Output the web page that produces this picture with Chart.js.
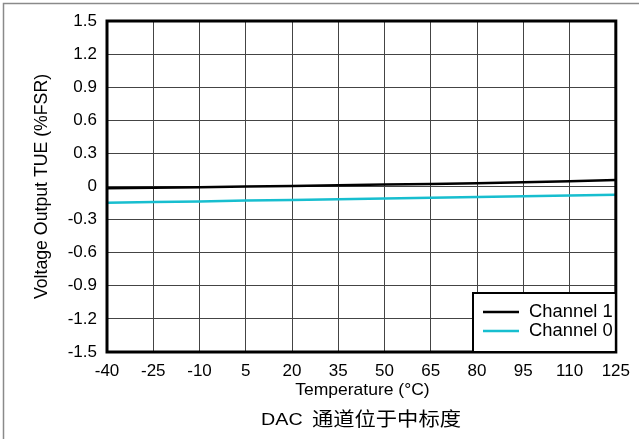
<!DOCTYPE html>
<html>
<head>
<meta charset="utf-8">
<script src="https://cdn.jsdelivr.net/npm/chart.js@4/dist/chart.umd.min.js"></script>
<style>
  html, body { margin: 0; padding: 0; background: #fff; }
  #wrap { position: relative; width: 639px; height: 439px; }
</style>
</head>
<body>
<div id="wrap"><canvas id="c" width="639" height="439"></canvas></div>
<script>
// ---- data ----
const temperatures = [-40, -25, -10, 5, 20, 35, 50, 65, 80, 95, 110, 125];
const channel1 = [-0.016, -0.011, -0.006, -0.001, 0.005, 0.011, 0.017, 0.023, 0.030, 0.038, 0.047, 0.058];
const channel0 = [-0.148, -0.141, -0.135, -0.128, -0.122, -0.115, -0.108, -0.102, -0.095, -0.088, -0.082, -0.075];
const seriesNames = ['Channel 1', 'Channel 0'];
const xTickLabels = ['-40', '-25', '-10', '5', '20', '35', '50', '65', '80', '95', '110', '125'];
const yTickLabels = ['-1.5', '-1.2', '-0.9', '-0.6', '-0.3', '0', '0.3', '0.6', '0.9', '1.2', '1.5'];
const xTitle = 'Temperature (°C)';
const yTitle = 'Voltage Output TUE (%FSR)';
const captionLatin = 'DAC';
const captionCJK = '通道位于中标度';

const colors = ['#000000', '#17BECF'];
const FONT = '"Liberation Sans", Arial, sans-serif';

const toPoints = (arr) => temperatures.map((t, i) => ({ x: t, y: arr[i] }));

function stretchedText(ctx, text, x, y, sx) {
  ctx.save();
  ctx.translate(x, y);
  ctx.scale(sx, 1);
  ctx.fillText(text, 0, 0);
  ctx.restore();
}

const decorPlugin = {
  id: 'decor',
  beforeDraw(chart) {
    const ctx = chart.ctx;
    ctx.save();
    ctx.fillStyle = '#fff';
    ctx.fillRect(0, 0, chart.width, chart.height);
    // outer frame (left + top)
    ctx.strokeStyle = '#8a8a8a';
    ctx.lineWidth = 1.5;
    ctx.beginPath();
    ctx.moveTo(3.5, chart.height);
    ctx.lineTo(3.5, 3.5);
    ctx.lineTo(chart.width, 3.5);
    ctx.stroke();
    ctx.restore();
  },
  afterDatasetsDraw(chart) {
    const ctx = chart.ctx;
    const a = chart.chartArea;
    ctx.save();
    // plot border
    ctx.strokeStyle = '#000';
    ctx.lineWidth = 3;
    ctx.strokeRect(a.left, a.top, a.right - a.left, a.bottom - a.top);

    // legend box
    const lx = 473, ly = 293, lw = a.right - 473, lh = a.bottom - 293;
    ctx.fillStyle = '#fff';
    ctx.fillRect(lx, ly, lw, lh);
    ctx.lineWidth = 2;
    ctx.strokeRect(lx, ly, lw, lh);
    const rows = [312, 331];
    ctx.font = '17.5px ' + FONT;
    ctx.textBaseline = 'middle';
    ctx.textAlign = 'left';
    rows.forEach((ry, i) => {
      ctx.strokeStyle = colors[i];
      ctx.lineWidth = 2.5;
      ctx.beginPath();
      ctx.moveTo(483, ry);
      ctx.lineTo(519, ry);
      ctx.stroke();
      ctx.fillStyle = '#000';
      stretchedText(ctx, seriesNames[i], 529, ry + 0.5, 1.05);
    });

    // axis titles
    ctx.fillStyle = '#000';
    ctx.font = '17px ' + FONT;
    ctx.textAlign = 'center';
    ctx.textBaseline = 'middle';
    stretchedText(ctx, xTitle, (a.left + a.right) / 2 + 1, 390, 1.03);
    ctx.save();
    ctx.translate(42, (a.top + a.bottom) / 2);
    ctx.rotate(-Math.PI / 2);
    ctx.font = '17.7px ' + FONT;
    ctx.fillText(yTitle, 0, 0);
    ctx.restore();

    // caption
    ctx.textAlign = 'left';
    ctx.textBaseline = 'alphabetic';
    ctx.font = '17px ' + FONT;
    stretchedText(ctx, captionLatin, 261, 425, 1.16);
    ctx.font = '19px "Noto Sans CJK SC"';
    stretchedText(ctx, captionCJK, 312, 426, 1.12);
    ctx.restore();
  }
};

new Chart(document.getElementById('c'), {
  type: 'line',
  data: {
    datasets: [
      { label: seriesNames[0], data: toPoints(channel1), borderColor: colors[0], borderWidth: 2.5, pointRadius: 0, fill: false, tension: 0 },
      { label: seriesNames[1], data: toPoints(channel0), borderColor: colors[1], borderWidth: 2.5, pointRadius: 0, fill: false, tension: 0 }
    ]
  },
  options: {
    responsive: false,
    animation: false,
    devicePixelRatio: 1,
    layout: { padding: { left: 0, top: 21, right: 16, bottom: 0 } },
    plugins: { legend: { display: false }, tooltip: { enabled: false }, title: { display: false } },
    scales: {
      x: {
        type: 'linear',
        min: -40, max: 125,
        afterFit(scale) { scale.height = 87; },
        afterBuildTicks(scale) { scale.ticks = temperatures.map(v => ({ value: v })); },
        grid: { color: '#444', lineWidth: 1, drawTicks: false },
        border: { display: false },
        ticks: {
          padding: 9,
          color: '#000',
          font: { family: FONT, size: 17 },
          maxRotation: 0, autoSkip: false,
          callback: (v, i) => xTickLabels[i]
        }
      },
      y: {
        type: 'linear',
        min: -1.5, max: 1.5,
        afterFit(scale) { scale.width = 107; },
        afterBuildTicks(scale) { scale.ticks = yTickLabels.map(s => ({ value: parseFloat(s) })); },
        grid: { color: '#444', lineWidth: 1, drawTicks: false },
        border: { display: false },
        ticks: {
          padding: 10,
          color: '#000',
          font: { family: FONT, size: 17 },
          autoSkip: false,
          callback: (v, i) => yTickLabels[i]
        }
      }
    }
  },
  plugins: [decorPlugin]
});
</script>
</body>
</html>
